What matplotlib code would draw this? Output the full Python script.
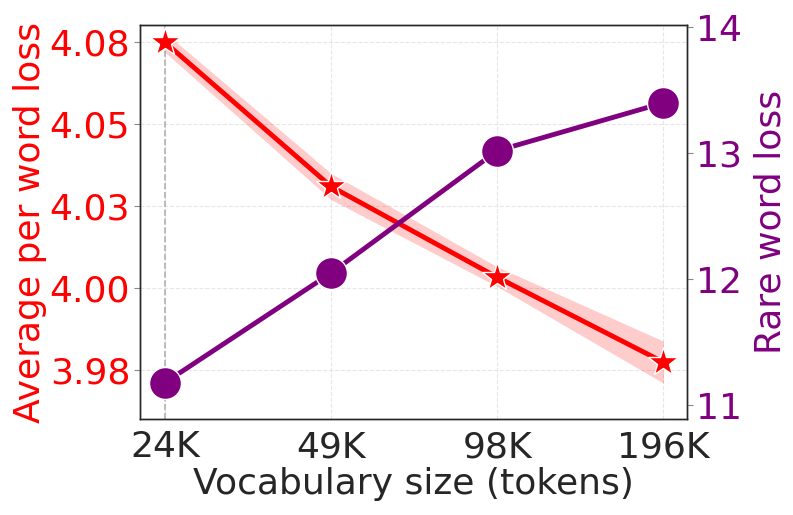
import matplotlib
matplotlib.use("Agg")
import matplotlib.pyplot as plt
import numpy as np

vocab_labels = ["24K", "49K", "98K", "196K"]
avg_loss = [4.075, 4.031, 4.0033, 3.9774]
avg_loss_lo = [4.072, 4.027, 4.0005, 3.971]
avg_loss_hi = [4.078, 4.035, 4.0065, 3.9838]
rare_loss = [11.18, 12.05, 13.02, 13.40]
left_ticks = [3.975, 4.0, 4.025, 4.05, 4.075]
left_ticklabels = ["3.98", "4.00", "4.03", "4.05", "4.08"]
right_ticks = [11, 12, 13, 14]

RED = "#ff0000"
PURPLE = "#800080"
DARK = "#262626"
FS = 26

fig = plt.figure(figsize=(7.93, 5.15), dpi=100)
ax = fig.add_axes([0.1765, 0.186, 0.6895, 0.765])
x = np.arange(len(vocab_labels))

ax.grid(True, color="#e6e6e6", linestyle="--", linewidth=0.8)
ax.set_axisbelow(True)
ax.axvline(x[0], color="#b0b0b0", linestyle="--", linewidth=1.2, zorder=1)

ax.fill_between(x, avg_loss_lo, avg_loss_hi, color=RED, alpha=0.2, linewidth=0, zorder=2)
ax.plot(x, avg_loss, color=RED, linewidth=3.5, marker="*", markersize=22,
        markeredgecolor="white", markeredgewidth=1.0, zorder=3)

ax.set_xlim(-0.15, 3.14)
ax.set_ylim(3.960, 4.0802)
ax.set_xticks(x)
ax.set_xticklabels(vocab_labels)
ax.set_yticks(left_ticks)
ax.set_yticklabels(left_ticklabels)
ax.tick_params(axis="x", length=0, labelsize=FS, labelcolor=DARK, pad=8)
ax.tick_params(axis="y", length=4, color="#888888", labelsize=FS, labelcolor=RED, pad=3)
ax.set_xlabel("Vocabulary size (tokens)", fontsize=FS, color=DARK, labelpad=2)
ax.set_ylabel("Average per word loss", fontsize=FS, color=RED, labelpad=2)

ax2 = ax.twinx()
ax2.plot(x, rare_loss, color=PURPLE, linewidth=3.5, marker="o", markersize=23,
         markeredgecolor="white", markeredgewidth=1.0, zorder=3)
ax2.set_ylim(10.89, 14.016)
ax2.set_yticks(right_ticks)
ax2.tick_params(axis="y", length=4, color="#888888", labelsize=FS, labelcolor=PURPLE, pad=3)
ax2.set_ylabel("Rare word loss", fontsize=FS, color=PURPLE, labelpad=8)

for a in (ax, ax2):
    for s in a.spines.values():
        s.set_color(DARK)
        s.set_linewidth(1.0)

fig.savefig("out.png", dpi=100)
